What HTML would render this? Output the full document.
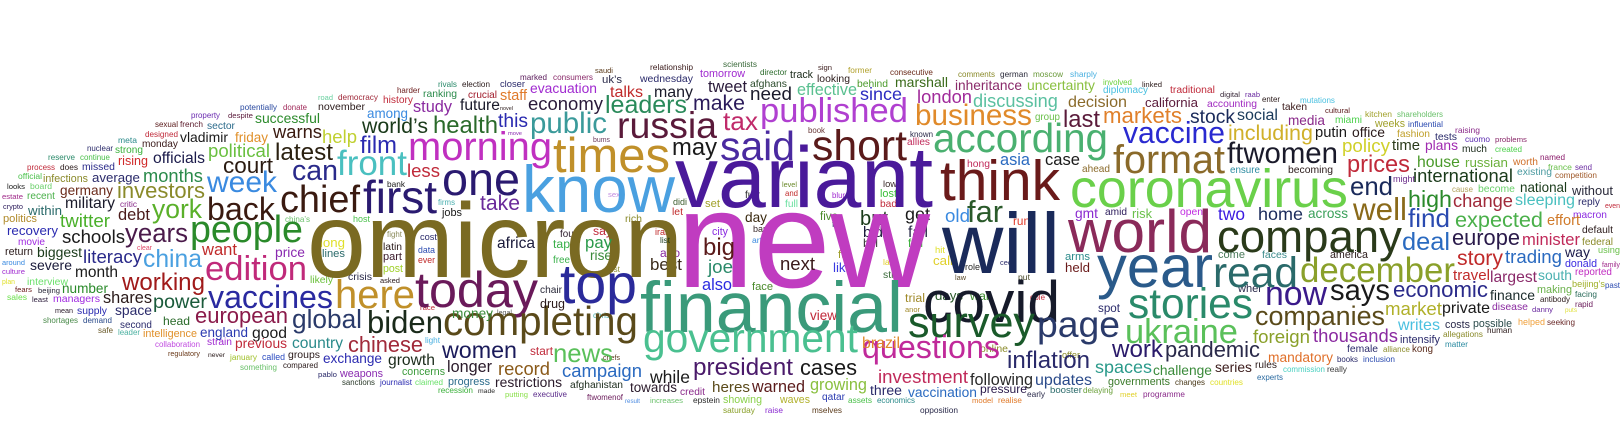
<!DOCTYPE html>
<html><head><meta charset="utf-8">
<style>
html,body{margin:0;padding:0;background:#fff;}
#cloud{display:block;width:1620px;height:442px;}
text{font-family:"Liberation Sans",Arial,sans-serif;}
</style></head>
<body>
<svg id="cloud" width="1620" height="442" viewBox="0 0 1620 442" xmlns="http://www.w3.org/2000/svg"></svg>
<script>
// word, left x, baseline y, width, colour
const W = [
["omicron",307,277,376,"#7a6a22"],["new",677,287,253,"#c03cc0"],["variant",675,207,258,"#4a1a9a"],["will",942,273,118,"#1a2a5a"],
["know",522,212,153,"#4aa0e0"],["financial",640,332,263,"#3a9a7a"],["covid",923,322,137,"#161a2a"],["coronavirus",1070,207,278,"#6ad04a"],
["think",940,200,120,"#6a1a1a"],["world",1068,252,144,"#8a2a5a"],["company",1217,252,185,"#2a3a1a"],["year",1097,287,116,"#2a5a8a"],
["read",1213,287,85,"#2a6a6a"],["december",1300,282,155,"#8aa02a"],["format",1113,173,112,"#8a6a2a"],["ftwomen",1227,163,111,"#1a1a2a"],
["today",415,307,123,"#6a1a5a"],["top",560,303,77,"#2a2a9a"],["times",553,172,117,"#c0902a"],["morning",408,160,144,"#c030c0"],
["one",442,195,78,"#2a1a70"],["first",363,213,74,"#2a1a70"],["chief",280,212,80,"#3a1a10"],["back",207,220,68,"#3a1a10"],
["people",190,242,113,"#2a8a2a"],["edition",205,280,102,"#c02a7a"],["here",335,308,80,"#c0902a"],["vaccines",208,308,125,"#2a2aa0"],
["completing",443,335,195,"#5a4a1a"],["biden",367,333,76,"#1a2a1a"],["global",292,328,70,"#2a3a6a"],["european",195,323,93,"#8a1a4a"],
["week",207,192,70,"#3a8ae0"],["can",292,180,46,"#2a2a8a"],["front",337,175,70,"#4ac0c0"],["latest",275,160,58,"#2a2010"],
["court",223,173,50,"#2a1a10"],["health",433,133,65,"#2a6a2a"],["world’s",362,133,66,"#1a3a1a"],["public",530,133,77,"#3a9a9a"],
["film",360,153,37,"#2a2ab0"],["economy",528,110,75,"#2a1a3a"],["leaders",605,113,82,"#2a8a5a"],["russia",617,138,100,"#5a1a3a"],
["future",460,110,40,"#1a1a2a"],["study",413,112,39,"#8a2aa0"],["this",498,127,30,"#2a2ab0"],["take",480,210,40,"#6a2a9a"],
["africa",497,248,38,"#1a1a3a"],["pay",585,248,27,"#2a9a4a"],["women",442,358,75,"#1a1a5a"],["longer",447,372,45,"#2a1a2a"],
["record",498,375,52,"#8a5a1a"],["news",553,362,60,"#5ac05a"],["campaign",562,377,80,"#2a6ac0"],["chinese",348,352,75,"#a02a3a"],
["country",292,348,51,"#2a8a8a"],["good",252,338,35,"#1a1a1a"],["growth",388,365,47,"#1a2a1a"],["exchange",323,363,59,"#2a2ab0"],
["restrictions",495,387,67,"#2a1a2a"],["political",208,157,62,"#6ac040"],["warns",273,138,49,"#3a1a10"],["help",322,143,35,"#c0d030"],
["successful",255,123,65,"#2a8a2a"],["said",720,160,75,"#4a2aa0"],["short",812,160,95,"#5a1a1a"],["published",760,122,148,"#b040d0"],
["tax",723,130,35,"#c02a6a"],["may",672,155,45,"#1a1a1a"],["make",693,110,52,"#2a1a5a"],["need",750,100,42,"#1a1a2a"],
["many",654,97,39,"#1a1a2a"],["effective",797,95,60,"#5ac090"],["since",860,100,42,"#2a2ac0"],["tweet",708,92,39,"#2a1a3a"],
["according",933,152,175,"#4ab070"],["business",915,125,117,"#e08a2a"],["london",917,103,55,"#a02a9a"],["discussing",973,107,85,"#5ac0a0"],
["far",967,222,36,"#2a5a2a"],["inheritance",955,90,67,"#8a2a6a"],["uncertainty",1027,90,68,"#8ac040"],["marshall",895,87,53,"#3a6a1a"],
["decision",1068,107,59,"#8a6a2a"],["last",1063,127,37,"#5a1a3a"],["asia",1000,165,30,"#2a6ac0"],["case",1045,165,35,"#1a1a1a"],
["survey",908,337,127,"#1a5a2a"],["page",1037,337,83,"#2a3a6a"],["questions",862,358,138,"#c02a9a"],["inflation",1007,368,83,"#2a2a6a"],
["investment",878,383,90,"#c02a5a"],["following",970,385,63,"#2a2a2a"],["updates",1035,385,57,"#2a4a8a"],["vaccination",908,397,69,"#2a6ac0"],
["president",693,375,100,"#4a1a6a"],["cases",800,375,57,"#1a1a1a"],["while",650,383,40,"#1a1a1a"],["warned",752,392,53,"#5a1a1a"],
["heres",712,392,38,"#5a4a1a"],["growing",810,390,57,"#8ac040"],["brazil",862,348,38,"#e08a2a"],["big",703,255,32,"#5a1a1a"],
["joe",708,273,25,"#2a8a6a"],["also",702,290,30,"#2a2ae0"],["list",660,243,10,"#1a3a1a"],["next",780,270,35,"#3a1a1a"],["day",745,222,22,"#3a2a10"],
["towards",630,392,47,"#2a1a2a"],["government",643,352,215,"#4ac090"],
["stories",1128,318,125,"#2a8a6a"],["ukraine",1125,343,113,"#5ac05a"],["now",1265,305,62,"#3a1a8a"],["says",1330,300,60,"#1a1a1a"],
["companies",1255,325,130,"#5a4a1a"],["work",1112,357,51,"#2a1a6a"],["pandemic",1165,357,95,"#2a2a4a"],["spaces",1095,373,57,"#2a9a8a"],
["challenge",1153,375,59,"#3a8a3a"],["thousands",1313,342,85,"#8a2aa0"],["foreign",1253,343,57,"#8aa02a"],["mandatory",1268,362,65,"#e0702a"],
["vaccine",1123,143,102,"#2a2ad0"],["markets",1103,123,79,"#e0802a"],["stock",1190,123,45,"#1a2a5a"],["social",1237,120,41,"#1a3a5a"],
["including",1228,140,85,"#d0b02a"],["putin",1315,137,32,"#1a1a1a"],["office",1352,137,33,"#2a1a1a"],["california",1145,107,53,"#5a1a3a"],
["accounting",1207,107,50,"#a02ac0"],["policy",1342,152,48,"#d0d02a"],["time",1392,150,28,"#2a3a1a"],["prices",1347,172,63,"#c02a3a"],
["house",1417,167,43,"#4a9a2a"],["russian",1465,167,43,"#6ab03a"],["end",1350,195,43,"#1a2a5a"],["international",1413,182,100,"#1a3a1a"],
["well",1353,220,54,"#8a6a1a"],["high",1408,207,44,"#2a8a2a"],["change",1453,207,60,"#a02a3a"],["sleeping",1515,205,60,"#4ac0c0"],
["find",1408,227,42,"#2a4ab0"],["expected",1455,227,88,"#4ab04a"],["effort",1547,225,33,"#d07a2a"],["deal",1402,250,48,"#2a6ac0"],
["europe",1452,245,68,"#2a1a4a"],["minister",1522,245,58,"#c02a5a"],["story",1457,265,46,"#c02a2a"],["trading",1505,263,57,"#2a6ac0"],
["economic",1393,297,95,"#2a2a8a"],["travel",1453,280,37,"#c02a2a"],["largest",1490,282,47,"#8a2a6a"],["market",1385,315,57,"#b0b02a"],
["private",1442,313,48,"#1a1a1a"],["finance",1490,300,45,"#1a2a2a"],
["years",125,242,63,"#4a1a4a"],["york",152,218,50,"#5ab02a"],["investors",117,198,88,"#8a8a2a"],["months",143,182,60,"#2a8a4a"],
["officials",153,163,52,"#1a1a4a"],["china",143,267,59,"#4aa0e0"],["working",122,290,83,"#a01a1a"],["power",153,308,54,"#1a5a3a"],
["schools",62,243,63,"#1a1a1a"],["literacy",83,263,59,"#2a2a8a"],["month",75,277,43,"#1a1a1a"],["twitter",60,227,50,"#4ab02a"],
["military",65,208,50,"#1a1a2a"],["debt",118,220,32,"#4a1a1a"],["germany",60,195,53,"#6a2a1a"],["average",92,182,48,"#2a2a6a"],
["rising",118,165,30,"#d02a2a"],["shares",103,303,49,"#2a1a1a"],["space",115,315,37,"#2a2a6a"],["head",163,325,27,"#2a6a2a"],
["recovery",7,235,51,"#2a2ab0"],["biggest",37,257,45,"#1a3a1a"],["severe",30,270,42,"#1a1a3a"],["number",62,293,46,"#2a8a2a"],
["within",28,215,34,"#2a6a6a"],["intelligence",143,337,54,"#e0902a"],["second",120,328,32,"#2a2a6a"],["vladimir",180,142,48,"#1a1a1a"],
["friday",235,142,33,"#e0902a"],["november",318,110,47,"#2a1a1a"],["evacuation",530,93,67,"#a02ad0"],["talks",610,97,33,"#c02a2a"],
["staff",500,100,27,"#e07a2a"],["among",367,118,41,"#3a8ae0"],["less",407,177,33,"#c02a3a"],["wednesday",640,82,53,"#2a2a6a"],
["national",1520,192,47,"#1a3a1a"],["without",1572,195,41,"#2a2a3a"],["south",1538,280,34,"#4ab0b0"],["making",1537,293,35,"#6ab04a"],
["existing",1517,175,35,"#4a9aa0"],["worth",1513,165,25,"#d0702a"],["writes",1398,330,42,"#4ac0e0"],["possible",1473,327,39,"#2a4a4a"],
["costs",1445,328,25,"#2a2a4a"],["disease",1492,310,36,"#8a2aa0"],["intensify",1400,343,40,"#2a2a6a"],["female",1347,352,31,"#2a2a6a"],
["series",1215,372,37,"#3a1a1a"],["governments",1108,385,62,"#3a7a2a"],["two",1218,220,27,"#3a1ae0"],["home",1258,220,45,"#1a2a5a"],
["across",1308,218,40,"#3aa05a"],["risk",1132,218,20,"#6ac04a"],["amid",1105,215,22,"#2a1a5a"],["pressure",980,393,47,"#2a1a4a"],
["three",870,395,32,"#2a2a6a"],["credit",680,395,25,"#8a2a8a"],["afghanistan",570,388,53,"#1a2a1a"],["progress",448,385,42,"#2a6a8a"],
["weapons",340,377,43,"#8a2ab0"],["concerns",402,375,43,"#3a9a3a"],["previous",235,348,52,"#c02a3a"],["england",200,337,48,"#2a3ab0"],
["money",452,318,41,"#3a8a3a"],["drug",540,308,25,"#2a1a1a"],["want",202,255,35,"#c02a2a"],["price",275,257,30,"#8a2ab0"]
];
// small filler words: word, left x, baseline y, width, colour
const S = [
["potentially",240,110,37,"#2a4aa0"],["donate",283,110,24,"#a02a5a"],["property",191,118,29,"#6a2ab0"],["despite",228,118,25,"#5a1a3a"],
["french",180,127,23,"#5a1a2a"],["sector",207,129,28,"#2a6a8a"],["road",318,100,15,"#6ad0a0"],["democracy",338,100,40,"#a02a3a"],
["harder",397,93,23,"#6a1a1a"],["history",383,103,30,"#c02a3a"],["ranking",423,97,34,"#2a8a4a"],["rivals",438,87,19,"#2a8a6a"],
["election",462,87,28,"#2a1a1a"],["closer",500,87,25,"#2a2a6a"],["crucial",468,98,29,"#a01a2a"],["marked",520,80,27,"#5a1a5a"],
["consumers",553,80,40,"#8a2a6a"],["saudi",595,73,18,"#5a3a1a"],["uk’s",602,83,20,"#2a2a4a"],["novel",500,110,13,"#2a1a1a"],
["move",508,135,14,"#8a2ab0"],["bums",593,142,17,"#6a3a5a"],["bank",387,187,18,"#1a1a1a"],["firms",438,205,17,"#4ab0b0"],
["jobs",442,216,20,"#1a1a1a"],["sex",608,197,12,"#c08ae0"],["rich",625,222,17,"#8a8a2a"],["china’s",285,222,25,"#6ac06a"],
["host",353,222,17,"#4ac04a"],["long",320,247,25,"#e0e02a"],["lines",322,257,23,"#2a6a6a"],["fight",387,237,15,"#8a8a5a"],
["latin",383,250,19,"#2a1a1a"],["part",383,260,19,"#3a1a2a"],["post",383,272,20,"#a0d02a"],["cost",420,240,17,"#2a2a6a"],
["data",418,253,17,"#2a4ab0"],["ever",418,263,17,"#c02a2a"],["four",560,237,17,"#2a1a2a"],["tap",553,248,17,"#3ab04a"],
["free",553,263,17,"#3ab04a"],["say",593,235,19,"#c02a3a"],["rise",590,260,22,"#3a8a3a"],["just",607,272,13,"#8a8a2a"],
["likely",310,283,23,"#6ac03a"],["crisis",348,280,24,"#2a2a4a"],["asked",380,283,20,"#2a1a1a"],["race",420,310,15,"#c02a3a"],
["chair",540,293,22,"#2a2a3a"],["legal",497,315,15,"#5a5a5a"],["chris",593,318,17,"#4ab0b0"],["strain",207,345,25,"#a02ad0"],
["groups",288,358,32,"#2a1a1a"],["january",230,360,27,"#a0c02a"],["called",262,360,23,"#2a4ac0"],["something",240,370,37,"#6ac06a"],
["compared",283,368,35,"#2a1a1a"],["never",208,357,17,"#2a1a1a"],["light",425,343,15,"#4ab0e0"],["start",530,355,23,"#c02a3a"],
["chefs",603,360,17,"#5a3a1a"],["pablo",318,377,19,"#2a2a6a"],["sanctions",342,385,33,"#2a3a2a"],["journalist",380,385,32,"#2a2ab0"],
["claimed",415,385,28,"#6ae06a"],["recession",438,393,35,"#3ab03a"],["made",478,393,17,"#2a2a2a"],["putting",505,397,23,"#8ae04a"],
["executive",533,397,34,"#5a2a8a"],["ftwomenof",587,400,36,"#6a1a5a"],["result",625,403,15,"#4a8ae0"],
["relationship",650,70,43,"#3a1a1a"],["scientists",723,67,34,"#3a6a3a"],["director",760,75,27,"#2a6a2a"],["tomorrow",700,77,45,"#a02ad0"],
["afghans",750,87,37,"#2a4a2a"],["track",790,78,23,"#1a2a1a"],["sign",818,70,14,"#3a1a1a"],["looking",817,82,33,"#2a1a1a"],
["former",848,73,24,"#b0a02a"],["behind",857,87,31,"#4a9a2a"],["consecutive",890,75,43,"#6a2a1a"],["comments",958,77,37,"#8a8a2a"],
["german",1000,77,28,"#2a2a3a"],["moscow",1033,77,30,"#6a9a3a"],["sharply",1070,77,27,"#4ab0e0"],["book",808,133,17,"#6a3a3a"],
["known",910,137,23,"#2a2a4a"],["allies",907,145,23,"#c02a5a"],["group",1035,120,25,"#6ac04a"],["hong",967,167,23,"#c02a5a"],
["ahead",1082,172,28,"#8a6a2a"],["level",782,187,15,"#6a8a2a"],["and",785,196,13,"#c02a2a"],["full",785,207,13,"#6ae0a0"],
["low",883,187,14,"#3a2a2a"],["lost",880,197,17,"#3ac03a"],["bad",880,207,17,"#c02a3a"],["furr",745,198,15,"#2a2a2a"],
["blur",832,198,13,"#a02ad0"],["didi",673,205,14,"#3a5a2a"],["set",705,207,15,"#a0a02a"],["let",672,215,11,"#c02a2a"],
["five",820,220,18,"#4a8a2a"],["flic",832,227,10,"#2a4a6a"],["but",860,225,28,"#1a3a1a"],["get",905,220,25,"#1a1a1a"],
["bid",863,237,20,"#1a1a3a"],["bill",863,247,15,"#3a3a3a"],["fall",908,237,20,"#2a2a4a"],["fell",908,247,15,"#3ab03a"],
["old",945,222,25,"#3a8ae0"],["gmt",1075,218,23,"#8a2ad0"],["run",1013,225,17,"#e03a2a"],["iran",655,235,15,"#c02a2a"],
["city",712,235,16,"#8a2ae0"],["ban",753,232,15,"#3a2a2a"],["art",752,243,10,"#3a8ae0"],["ago",660,257,20,"#8a2aa0"],
["best",650,270,32,"#3a2a1a"],["fts",838,258,12,"#a0a02a"],["hit",935,253,10,"#e0e02a"],["late",883,265,14,"#e0d02a"],
["call",933,265,20,"#e0d02a"],["arms",1065,260,25,"#2a8a8a"],["held",1065,272,25,"#6a1a1a"],["ceo",1000,265,12,"#2a2a6a"],
["role",965,270,15,"#2a2a2a"],["like",833,272,20,"#3a3ae0"],["still",883,278,15,"#3a6a3a"],["law",955,280,11,"#5a4a2a"],
["put",1018,280,12,"#4a4a2a"],["face",752,290,21,"#4a8a2a"],["trial",905,302,20,"#a08a2a"],["days",935,300,28,"#2a5a2a"],
["war",970,300,20,"#3a8a2a"],["dole",1030,300,15,"#c02a3a"],["anor",905,312,15,"#a08a2a"],["view",810,320,27,"#c02a3a"],
["spot",1098,312,22,"#2a2a6a"],["online",980,352,28,"#8a8a2a"],["offer",1062,358,18,"#8a8a2a"],["increases",650,403,33,"#6ac06a"],
["epstein",693,403,27,"#2a2a2a"],["showing",723,403,39,"#8ad04a"],["waves",780,403,30,"#b0b02a"],["saturday",723,413,32,"#8aa02a"],
["qatar",822,400,23,"#2a3ab0"],["raise",765,413,18,"#8a2ad0"],["assets",848,403,24,"#4ac04a"],["mselves",812,413,30,"#5a3a1a"],
["economics",877,403,38,"#2a8a8a"],["opposition",920,413,38,"#2a2a4a"],["early",1027,397,18,"#2a2a4a"],["booster",1050,393,32,"#2a6a6a"],
["delaying",1083,393,30,"#6aa03a"],["model",972,403,21,"#e07a2a"],["realise",998,403,24,"#e07a2a"],
["involved",1103,85,29,"#6ad03a"],["linked",1142,87,20,"#2a1a1a"],["diplomacy",1103,93,45,"#4ac0e0"],["traditional",1170,93,45,"#c02a3a"],
["digital",1220,97,20,"#3a2a3a"],["raab",1245,97,15,"#6a2aa0"],["enter",1262,102,18,"#2a1a1a"],["taken",1282,110,25,"#3a1a1a"],
["mutations",1300,103,35,"#4ac0e0"],["cultural",1325,113,25,"#5a1a1a"],["kitchen",1365,117,27,"#a0a02a"],["shareholders",1397,117,46,"#6ac06a"],
["media",1288,125,37,"#8a2a8a"],["miami",1335,123,27,"#4ad04a"],["weeks",1375,127,30,"#a0a02a"],["influential",1408,127,35,"#2a4ab0"],
["fashion",1397,137,33,"#c0a02a"],["tests",1435,140,22,"#2a2a6a"],["raising",1455,133,25,"#8a2a8a"],["cuomo",1465,142,25,"#5a2ab0"],
["problems",1495,142,32,"#8a2a6a"],["plans",1425,150,33,"#a02ab0"],["much",1462,152,25,"#1a2a1a"],["created",1495,152,27,"#4ad04a"],
["named",1540,160,25,"#8a1a6a"],["france",1548,170,24,"#6ac04a"],["send",1575,170,17,"#6a2aa0"],["competition",1555,178,42,"#a05a2a"],
["might",1393,182,22,"#6a2a8a"],["cause",1452,192,21,"#b0a05a"],["become",1478,192,37,"#6ad06a"],["ensure",1230,173,30,"#2a8aa0"],
["becoming",1288,173,45,"#2a1a1a"],["open",1180,215,23,"#c02ae0"],["come",1218,258,27,"#4a7a5a"],["faces",1262,258,25,"#3a8a8a"],
["america",1330,258,38,"#2a1a1a"],["wher",1238,292,24,"#2a2a4a"],["danny",1532,312,21,"#6a2aa0"],["puts",1565,312,12,"#e0e03a"],
["antibody",1540,302,30,"#2a1a1a"],["facing",1575,297,22,"#2a6a5a"],["rapid",1575,307,18,"#6a1a5a"],["helped",1518,325,27,"#f0a03a"],
["seeking",1547,325,28,"#6a2a2a"],["allegations",1443,337,40,"#8a8a2a"],["human",1487,333,25,"#2a1a1a"],["matter",1445,347,23,"#2a8aa0"],
["alliance",1383,352,27,"#8a8a2a"],["kong",1412,352,21,"#5a2a1a"],["books",1337,362,21,"#2a2a6a"],["inclusion",1363,362,32,"#2a4ab0"],
["rules",1255,368,22,"#2a1a1a"],["commission",1283,372,42,"#4ad0c0"],["really",1327,372,20,"#3a3a3a"],["experts",1257,380,26,"#2a6aa0"],
["changes",1175,385,30,"#4a3a1a"],["countries",1210,385,33,"#e0e02a"],["meet",1120,397,17,"#e0d02a"],["programme",1143,397,42,"#8a2a8a"],
["reported",1575,275,37,"#c02ac0"],["beijing’s",1572,287,33,"#a0b02a"],["past",1605,288,15,"#2a4ab0"],["using",1598,253,22,"#6ac04a"],
["family",1602,267,18,"#a02a8a"],["macron",1573,218,34,"#8a2ae0"],["even",1605,208,15,"#c02a3a"],["reply",1578,205,22,"#2a2a6a"],
["default",1582,233,31,"#2a1a1a"],["federal",1582,245,31,"#8a8a2a"],["way",1565,257,25,"#1a1a4a"],["donald",1565,267,32,"#3a2ae0"],
["sexual",155,127,23,"#5a1a1a"],["designed",145,137,33,"#c02a3a"],["meta",118,143,19,"#2a8a8a"],["monday",142,147,36,"#3a1a1a"],
["nuclear",87,151,26,"#2a2a6a"],["strong",115,153,28,"#3ab03a"],["reserve",48,160,27,"#2a8a6a"],["continue",80,160,30,"#4ac04a"],
["process",27,170,28,"#c02a3a"],["does",60,170,18,"#2a1a1a"],["missed",82,170,33,"#2a2a8a"],["official",18,179,24,"#4ac04a"],
["infections",43,182,45,"#8a8a2a"],["looks",7,189,18,"#1a1a1a"],["board",30,189,22,"#6ad06a"],["estate",2,199,21,"#a02a8a"],
["recent",27,199,28,"#4ab04a"],["crypto",3,209,20,"#2a1a5a"],["critic",120,207,17,"#8a2a8a"],["politics",3,222,34,"#b08a2a"],
["movie",18,245,27,"#a02ae0"],["clear",137,250,15,"#e04a6a"],["return",5,255,28,"#2a1a1a"],["around",2,265,23,"#3a8ae0"],
["culture",2,274,23,"#a02ad0"],["plan",2,284,13,"#e0e02a"],["interview",27,285,41,"#6ae06a"],["fears",15,292,17,"#6a1a1a"],
["beijing",38,293,22,"#2a2a3a"],["sales",7,300,20,"#6ae04a"],["least",32,302,16,"#2a1a3a"],["managers",53,302,47,"#a02ae0"],
["mean",55,313,18,"#2a1a2a"],["supply",77,314,30,"#2a2ab0"],["shortages",43,323,35,"#4a8a4a"],["demand",83,323,29,"#2a4a8a"],
["safe",98,333,15,"#6a5a2a"],["leader",118,335,22,"#4ab0a0"],["collaboration",155,347,45,"#c04ae0"],["regulatory",168,356,32,"#6a3a1a"]
];
const svg = document.getElementById('cloud');
const ctx = document.createElement('canvas').getContext('2d');
ctx.font = '100px "Liberation Sans", Arial, sans-serif';
function place(list, big) {
  for (const [word, x, y, w, col] of list) {
    const nat = ctx.measureText(word).width || 1;
    const fs = 100 * w / nat;
    const t = document.createElementNS('http://www.w3.org/2000/svg', 'text');
    
    
    t.setAttribute('x', x);
    t.setAttribute('y', y);
    t.setAttribute('font-size', fs.toFixed(2));
    t.setAttribute('fill', col);
    t.textContent = word;
    svg.appendChild(t);
  }
}
place(S, false);
place(W, true);
</script>
</body></html>
